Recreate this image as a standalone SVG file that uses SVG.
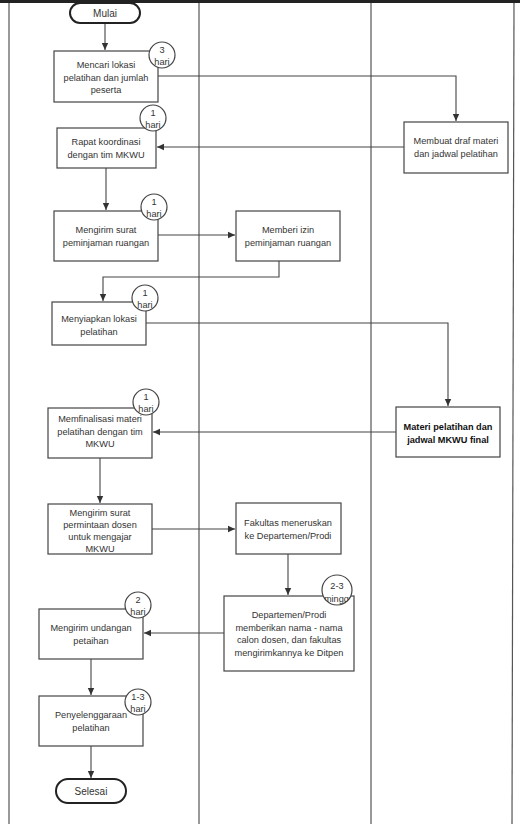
<svg xmlns="http://www.w3.org/2000/svg" width="520" height="824" viewBox="0 0 520 824">
<defs>
<marker id="ah" markerWidth="8" markerHeight="8" refX="7" refY="4" orient="auto" markerUnits="userSpaceOnUse">
<path d="M0,0.8 L7,4 L0,7.2 Z" fill="#333"/>
</marker>
<clipPath id="cb"><circle cx="337" cy="590" r="15.6"/></clipPath>
<style>
.box{fill:#fff;stroke:#444;stroke-width:1.2}
.term{fill:#fff;stroke:#222;stroke-width:2}
.badge{fill:#fff;stroke:#444;stroke-width:1.2}
.lane{stroke:#555;stroke-width:1.2;fill:none}
.c{fill:none;stroke:#444;stroke-width:1.1}
text{font-family:"Liberation Sans",Arial,sans-serif;font-size:9.2px;fill:#333;text-anchor:middle}
.t{font-size:10px}
.b{font-weight:bold;fill:#111}
</style>
</defs>
<rect x="0" y="0" width="520" height="824" fill="#fff"/>
<rect x="0" y="0" width="520" height="3" fill="#222"/>
<g id="lanes">
<line class="lane" x1="9" y1="3" x2="9" y2="824"/>
<line class="lane" x1="199" y1="3" x2="199" y2="824"/>
<line class="lane" x1="371" y1="3" x2="371" y2="824"/>
<line class="lane" x1="514" y1="3" x2="512" y2="824"/>
</g>
<g id="connectors">
<path class="c" d="M105,23 V50" marker-end="url(#ah)"/>
<path class="c" d="M158,76 H456 V121" marker-end="url(#ah)"/>
<path class="c" d="M404,147 H157" marker-end="url(#ah)"/>
<path class="c" d="M106,168 V210" marker-end="url(#ah)"/>
<path class="c" d="M158,235 H235" marker-end="url(#ah)"/>
<path class="c" d="M279,261 V277 H103 V301" marker-end="url(#ah)"/>
<path class="c" d="M146,323 H448 V406" marker-end="url(#ah)"/>
<path class="c" d="M396,432 H153" marker-end="url(#ah)"/>
<path class="c" d="M100,458 V503" marker-end="url(#ah)"/>
<path class="c" d="M152,529 H235" marker-end="url(#ah)"/>
<path class="c" d="M288,554 V595" marker-end="url(#ah)"/>
<path class="c" d="M224,633 H144" marker-end="url(#ah)"/>
<path class="c" d="M91,659 V695" marker-end="url(#ah)"/>
<path class="c" d="M91,746 V778" marker-end="url(#ah)"/>
</g>
<g id="mulai">
<rect class="term" x="70" y="3" width="70" height="20" rx="10"/>
<text class="t" x="105" y="16.5">Mulai</text>
</g>
<g id="n1">
<rect class="box" x="54" y="51" width="104" height="51"/>
<text x="106" y="68">Mencari lokasi</text>
<text x="106" y="80.5">pelatihan dan jumlah</text>
<text x="106" y="93">peserta</text>
<circle class="badge" cx="162" cy="55" r="13"/>
<text x="162" y="53">3</text>
<text x="162" y="65">hari</text>
</g>
<g id="n2">
<rect class="box" x="404" y="122" width="104" height="51"/>
<text x="456" y="144">Membuat draf materi</text>
<text x="456" y="156.5">dan jadwal pelatihan</text>
</g>
<g id="n3">
<rect class="box" x="57" y="128" width="99" height="40"/>
<text x="106" y="145">Rapat koordinasi</text>
<text x="106" y="157.5">dengan tim MKWU</text>
<circle class="badge" cx="153" cy="118" r="13"/>
<text x="153" y="116">1</text>
<text x="153" y="128">hari</text>
</g>
<g id="n4">
<rect class="box" x="54" y="211" width="104" height="50"/>
<text x="106" y="233">Mengirim surat</text>
<text x="106" y="245.5">peminjaman ruangan</text>
<circle class="badge" cx="154" cy="207" r="13"/>
<text x="154" y="205">1</text>
<text x="154" y="217">hari</text>
</g>
<g id="n5">
<rect class="box" x="236" y="211" width="104" height="50"/>
<text x="288" y="233">Memberi izin</text>
<text x="288" y="245.5">peminjaman ruangan</text>
</g>
<g id="n6">
<rect class="box" x="52" y="302" width="94" height="43"/>
<text x="99" y="322">Menyiapkan lokasi</text>
<text x="99" y="334.5">pelatihan</text>
<circle class="badge" cx="145" cy="298" r="13"/>
<text x="145" y="296">1</text>
<text x="145" y="308">hari</text>
</g>
<g id="n7">
<rect class="box" x="396" y="407" width="104" height="50"/>
<text class="b" x="448" y="430">Materi pelatihan dan</text>
<text class="b" x="448" y="442.5">jadwal MKWU final</text>
</g>
<g id="n8">
<rect class="box" x="48" y="408" width="104" height="50"/>
<text x="100" y="422">Memfinalisasi materi</text>
<text x="100" y="434.5">pelatihan dengan tim</text>
<text x="100" y="447">MKWU</text>
<circle class="badge" cx="146" cy="402" r="13"/>
<text x="146" y="400">1</text>
<text x="146" y="412">hari</text>
</g>
<g id="n9">
<rect class="box" x="48" y="504" width="104" height="50"/>
<text x="100" y="515.5">Mengirim surat</text>
<text x="100" y="527.5">permintaan dosen</text>
<text x="100" y="539.5">untuk mengajar</text>
<text x="100" y="551.5">MKWU</text>
</g>
<g id="n10">
<rect class="box" x="236" y="503" width="105" height="51"/>
<text x="288" y="526">Fakultas meneruskan</text>
<text x="288" y="538.5">ke Departemen/Prodi</text>
</g>
<g id="n11">
<rect class="box" x="224" y="596" width="130" height="75"/>
<text x="289" y="618">Departemen/Prodi</text>
<text x="289" y="630.5">memberikan nama - nama</text>
<text x="289" y="643">calon dosen, dan fakultas</text>
<text x="289" y="655.5">mengirimkannya ke Ditpen</text>
<circle class="badge" cx="337" cy="590" r="15"/>
<text x="337" y="589">2-3</text>
<text x="339" y="602" clip-path="url(#cb)">minggu</text>
</g>
<g id="n12">
<rect class="box" x="39" y="609" width="104" height="50"/>
<text x="91" y="631">Mengirim undangan</text>
<text x="91" y="643.5">petaihan</text>
<circle class="badge" cx="138" cy="605" r="13"/>
<text x="138" y="603">2</text>
<text x="138" y="615">hari</text>
</g>
<g id="n13">
<rect class="box" x="39" y="696" width="104" height="50"/>
<text x="91" y="718">Penyelenggaraan</text>
<text x="91" y="730.5">pelatihan</text>
<circle class="badge" cx="138" cy="702" r="13"/>
<text x="138" y="700">1-3</text>
<text x="138" y="712">hari</text>
</g>
<g id="selesai">
<rect class="term" x="56" y="779" width="70" height="24" rx="12"/>
<text class="t" x="91" y="794.5">Selesai</text>
</g>
</svg>
